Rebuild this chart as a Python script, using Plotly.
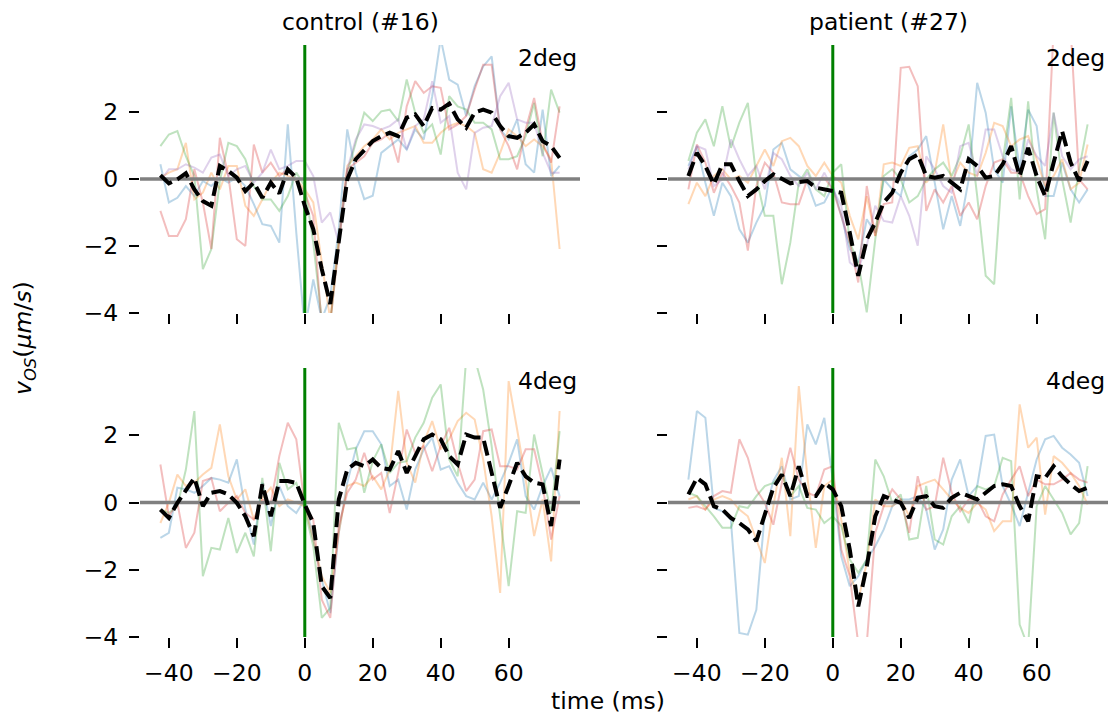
import plotly.graph_objects as go

# ---------------- data ----------------
time_ms = [-42.5, -40.0, -37.5, -35.0, -32.5, -30.0, -27.5, -25.0, -22.5, -20.0, -17.5, -15.0,
           -12.5, -10.0, -7.5, -5.0, -2.5, 0.0, 2.5, 5.0, 7.5, 10.0, 12.5, 15.0,
           17.5, 20.0, 22.5, 25.0, 27.5, 30.0, 32.5, 35.0, 37.5, 40.0, 42.5, 45.0,
           47.5, 50.0, 52.5, 55.0, 57.5, 60.0, 62.5, 65.0, 67.5, 70.0, 72.5, 75.0]

x_ticks = [-40, -20, 0, 20, 40, 60]
x_ticklabels = ["\u221240", "\u221220", "0", "20", "40", "60"]
y_ticks = [-4, -2, 0, 2]
y_ticklabels = ["\u22124", "\u22122", "0", "2"]

col_titles = ["control (#16)", "patient (#27)"]
row_labels = ["2deg", "4deg"]

# control, 2deg
ctl2_mean = [0.11,-0.13,-0.01,0.17,-0.31,-0.66,-0.80,0.39,0.24,0.04,-0.36,-0.11,
             -0.56,-0.11,-0.43,0.29,0.04,-0.80,-1.50,-2.69,-3.73,-1.90,-0.01,0.59,
             0.88,1.13,1.28,1.38,1.28,1.83,1.93,1.58,2.12,2.07,2.25,1.78,
             1.53,1.98,2.07,1.98,1.58,1.28,1.23,1.38,1.63,1.13,0.98,0.63]
ctl2_blue = [0.44,-0.70,-0.56,-0.21,-0.51,-0.06,-0.21,0.04,-0.11,0.04,-0.21,-0.75,
             -1.35,-1.40,-1.90,1.63,-1.60,-4.50,-3.00,-4.20,-3.50,-1.50,1.48,0.20,
             -0.60,-0.50,0.78,0.98,1.18,0.88,1.48,1.18,2.47,4.20,2.97,2.82,
             1.88,2.77,3.36,3.66,1.48,1.18,1.78,0.44,0.19,2.07,0.09,0.39]
ctl2_orange = [0.04,0.19,0.29,1.08,-0.61,-0.41,0.19,-0.31,0.39,0.39,-0.80,-1.10,
               -0.61,-0.11,0.19,0.09,-0.01,-0.31,-0.70,-2.49,-4.20,-1.80,0.39,0.68,
               0.98,1.18,1.48,1.18,1.38,1.48,1.58,1.08,1.08,1.38,1.58,1.68,
               1.58,1.38,0.29,0.19,0.78,1.48,1.28,0.98,1.18,0.98,0.59,-2.09]
ctl2_green = [0.98,1.33,1.43,0.68,0.09,-2.69,-2.09,-0.06,1.08,0.98,0.59,-0.21,
              -0.61,-0.61,-0.95,-0.51,0.19,-0.21,-1.90,-4.20,-4.30,-1.90,0.19,1.08,
              1.98,1.73,2.02,2.07,1.73,2.97,1.98,1.38,1.63,0.73,2.47,2.17,
              2.07,1.68,1.68,1.48,0.59,0.59,0.68,1.28,2.27,0.68,2.67,1.98]
ctl2_red = [-0.95,-1.70,-1.70,-1.20,0.29,-0.70,-2.09,1.23,0.09,-1.80,-2.00,1.03,
            0.19,0.49,0.09,0.29,-0.06,-0.41,-1.10,-4.40,-4.30,-1.90,0.29,0.49,
            0.68,1.08,1.18,1.38,0.49,2.17,2.92,2.57,2.77,2.72,1.48,1.63,
            1.88,2.67,3.41,3.41,1.48,0.98,0.29,1.48,2.42,1.08,0.49,2.17]
ctl2_purple = [-0.06,0.29,0.29,0.44,0.34,0.19,0.64,0.73,0.09,0.29,0.39,-0.11,
               0.19,0.88,0.29,0.39,0.54,0.54,0.09,-1.30,-1.00,-1.90,0.29,1.18,
               1.63,1.58,1.48,1.58,1.78,0.88,1.58,1.78,2.92,1.68,1.88,0.19,
               -0.31,1.38,1.53,1.58,2.47,2.87,1.78,1.68,1.68,0.78,0.19,0.19]

# patient, 2deg
pat2_mean = [0.09,0.78,0.39,-0.16,0.44,0.44,-0.06,-0.51,-0.31,-0.06,0.14,-0.01,
             -0.13,-0.09,-0.06,-0.26,-0.31,-0.36,-0.41,-1.60,-2.89,-1.80,-1.30,-0.70,
             -0.41,0.19,0.59,0.73,0.09,0.04,0.09,-0.11,-0.31,0.59,0.39,0.04,
             0.09,0.44,0.98,0.09,0.93,0.09,-0.51,0.49,1.43,0.49,-0.06,0.54]
pat2_blue = [0.39,0.98,-0.11,-1.10,-0.11,-0.51,-1.50,-1.90,-1.30,-0.80,0.88,1.08,
             0.29,0.09,-0.11,-0.80,-0.70,-0.21,-1.10,-2.09,-2.49,-1.20,-1.60,-0.01,
             -0.31,-0.51,0.68,0.88,1.28,-0.11,-1.50,-0.51,-1.40,-0.01,2.87,1.98,
             0.29,-0.11,2.17,0.29,2.07,1.58,-0.51,-0.51,0.49,-0.31,-0.70,-0.31]
pat2_orange = [-0.75,-0.11,-0.51,0.09,0.29,-0.01,0.09,-0.11,0.39,0.88,0.39,1.13,
               1.23,0.98,0.39,0.09,0.49,0.09,-0.11,-1.10,-1.80,-0.51,-1.70,0.44,
               0.49,0.39,0.93,0.98,-0.11,0.19,1.63,-0.11,0.49,0.19,0.09,0.78,
               1.68,1.58,0.98,1.18,1.28,0.59,-0.21,0.09,0.59,-0.31,-0.11,1.03]
pat2_green = [0.54,1.38,1.78,0.98,2.17,0.93,1.68,2.27,0.04,-1.10,-1.10,-3.14,
              -1.90,-0.11,0.29,-0.31,-0.51,0.19,0.44,-1.90,-2.49,-3.98,-1.80,0.09,
              0.29,-0.01,-0.70,-0.51,-0.01,0.29,0.49,0.09,0.68,1.63,-0.51,-2.89,
              -3.14,0.49,2.42,-0.61,2.32,-0.31,-1.80,1.98,-0.01,-1.30,0.29,1.63]
pat2_red = [-0.31,1.03,0.49,-0.41,0.19,-0.21,-0.70,-2.14,-0.21,0.49,0.19,-0.70,
            -0.75,-0.75,-0.01,-0.01,0.04,-0.31,-1.10,-1.90,-3.09,-0.21,-1.70,-0.75,
            -0.70,3.32,3.35,2.77,-0.95,-0.31,-0.70,-0.21,-1.10,-0.70,-1.20,-0.21,
            0.49,0.59,0.19,0.19,-0.51,-1.05,-0.90,4.50,5.20,4.50,-0.01,-0.31]
pat2_purple = [0.29,0.98,0.88,-0.21,-0.01,1.18,0.59,0.09,0.39,-0.31,0.78,0.59,
               0.09,-0.21,0.19,-0.31,0.19,-0.31,-0.80,-2.49,-2.69,-1.99,-0.80,-1.25,
               -1.30,-0.51,-1.10,-1.99,0.68,0.29,-0.21,-0.41,0.98,1.08,0.09,1.48,
               1.48,0.68,0.29,0.19,1.18,0.68,0.39,1.98,0.68,0.29,0.59,0.68]

# control, 4deg
ctl4_mean = [-0.21,-0.46,-0.01,0.34,0.73,-0.11,0.29,0.34,0.24,-0.01,-0.41,-1.00,
             0.54,-0.41,0.64,0.64,0.58,-0.06,-0.61,-2.49,-2.84,0.09,0.98,1.18,
             1.08,1.28,1.03,0.98,1.53,0.88,1.38,1.88,2.02,1.88,1.38,1.13,
             2.02,1.93,1.93,0.88,-0.16,0.50,1.18,0.78,0.59,0.54,-0.70,1.28]
ctl4_blue = [-1.05,-0.90,0.44,0.39,0.29,0.49,0.73,0.68,0.59,1.28,-0.21,-1.25,
             0.59,-0.70,0.49,-0.11,-0.31,0.09,-1.10,-2.29,-3.29,-0.90,0.59,1.58,
             2.12,2.12,1.73,0.49,0.68,-0.21,0.98,1.58,1.93,0.98,1.08,0.59,
             0.19,0.09,0.59,0.09,0.59,1.18,1.88,0.19,-0.21,0.49,1.03,0.19]
ctl4_orange = [-0.61,-0.01,0.83,0.49,0.59,0.83,1.03,2.32,0.78,0.09,0.39,-0.51,
               0.14,0.44,-0.11,0.09,-0.01,-0.11,-1.10,-2.19,-2.69,-0.90,0.49,0.59,
               0.49,0.78,0.39,0.98,3.32,1.18,0.59,1.78,2.42,1.58,1.88,2.42,
               2.67,2.47,1.28,-0.41,-2.69,3.61,2.17,0.68,-1.00,0.09,-1.75,2.72]
ctl4_green = [-0.21,-0.31,-0.11,0.98,2.72,-2.19,-1.35,-1.40,-0.46,-1.50,-0.90,-1.60,
              0.73,-1.45,1.18,0.39,0.58,-0.21,-1.30,-3.43,-3.14,2.37,1.58,1.63,
              0.29,1.23,1.73,0.88,1.18,1.23,1.93,2.37,3.12,3.51,1.28,0.78,
              4.30,4.30,3.36,1.68,-0.41,-2.49,-0.26,-0.31,2.02,0.88,-0.31,2.12]
ctl4_red = [1.13,-0.41,-0.01,-1.35,-0.90,0.64,0.73,-0.26,-0.01,0.19,-0.31,-0.51,
            0.09,-0.01,1.38,2.37,1.88,-0.11,-0.51,-2.89,-3.43,-0.70,0.29,0.68,
            1.48,0.68,0.88,-0.31,0.88,2.17,1.48,1.68,0.93,1.68,2.22,1.18,
            0.34,0.68,2.12,2.17,1.08,1.08,0.98,1.58,1.58,0.49,-1.10,0.19]

# patient, 4deg
pat4_mean = [0.24,0.73,0.54,-0.11,-0.21,-0.46,-0.61,-0.80,-1.15,-0.31,0.44,0.83,
             0.19,1.08,0.19,0.19,0.58,0.39,-0.11,-1.40,-3.09,-1.90,-0.41,0.19,
             0.09,-0.01,-0.46,0.14,0.19,-0.11,-0.16,0.14,0.29,0.19,0.09,0.29,
             0.49,0.54,0.49,-0.11,-0.56,0.78,0.73,1.08,0.78,0.54,0.34,0.44]
pat4_blue = [0.68,2.72,2.52,-0.16,-0.26,-0.51,-3.88,-3.93,-3.19,-0.31,0.64,1.08,
             0.09,0.19,2.32,1.73,2.52,0.68,-1.60,-2.49,-2.19,-1.70,-1.30,-0.80,
             -0.11,0.09,0.09,0.19,-0.21,-1.40,-0.80,0.68,1.28,0.19,0.49,1.98,
             2.02,0.49,-0.06,-0.70,0.29,1.28,1.88,1.98,1.63,1.43,1.18,0.19]
pat4_orange = [0.09,0.19,-0.21,0.09,0.19,0.09,-0.21,-0.41,-1.10,-1.80,-0.11,1.33,
               -1.00,3.46,0.78,-1.35,0.49,0.68,-0.51,-2.09,-2.89,-1.80,0.09,-0.11,
               -0.11,0.09,-0.41,0.49,0.59,0.68,0.39,0.09,-0.16,-0.31,-0.01,-0.21,
               -0.85,-0.56,-0.56,2.92,1.63,1.93,-0.36,1.38,1.18,0.88,0.49,-0.06]
pat4_green = [0.29,0.19,-0.11,-0.41,-0.75,-0.75,-0.11,-0.16,0.19,0.49,0.58,0.83,
              0.19,0.49,-0.16,-0.21,-0.61,-0.41,-0.70,-1.70,-2.09,-1.70,1.28,0.78,
              -0.01,0.24,-1.10,-1.05,0.49,-1.10,-1.25,-0.41,-0.11,-0.61,0.49,0.39,
              0.49,1.33,1.23,-3.63,-4.30,-0.11,0.49,0.09,-0.31,-0.95,-0.61,1.08]
pat4_red = [-0.16,-0.11,-0.21,0.19,0.34,0.29,1.88,1.33,0.39,-0.01,-0.66,0.58,
            1.63,0.68,0.29,0.19,0.98,1.08,-1.40,-2.19,-4.20,-4.20,-0.90,-0.11,
            0.39,0.09,-0.90,0.78,-0.21,-0.11,1.33,0.29,-0.26,0.09,0.09,-0.41,
            -0.56,0.24,0.68,1.08,0.19,0.68,0.54,0.54,0.68,0.88,0.68,0.59]

# ---------------- styling ----------------
W, H = 1108, 715          # target picture size
H_FIG = 729               # figure height (photo comes out squeezed ~0.98 vertically)
FONT = "DejaVu Sans"
FS = 23.5
X_RANGE = [-48.5, 81]
Y_RANGE = [-4, 4]
trial_colors = {
    "blue": "rgba(31,119,180,0.3)",
    "orange": "rgba(255,127,14,0.3)",
    "green": "rgba(44,160,44,0.3)",
    "red": "rgba(214,39,40,0.3)",
    "purple": "rgba(148,103,189,0.3)",
}

panels = [
    (0, 0, [("blue", ctl2_blue), ("orange", ctl2_orange), ("green", ctl2_green),
            ("red", ctl2_red), ("purple", ctl2_purple)], ctl2_mean),
    (0, 1, [("blue", pat2_blue), ("orange", pat2_orange), ("green", pat2_green),
            ("red", pat2_red), ("purple", pat2_purple)], pat2_mean),
    (1, 0, [("blue", ctl4_blue), ("orange", ctl4_orange), ("green", ctl4_green),
            ("red", ctl4_red)], ctl4_mean),
    (1, 1, [("blue", pat4_blue), ("orange", pat4_orange), ("green", pat4_green),
            ("red", pat4_red)], pat4_mean),
]

# panel pixel boxes (in the 1108x715 picture)
col_px = [(140, 580), (668, 1108)]
row_px = [(45, 313), (368, 637)]


def px(x):
    return x / W


def py(y):
    return 1 - y / H


fig = go.Figure()
layout_axes = {}
for idx, (r, c, trials, mean) in enumerate(panels):
    n = idx + 1
    xa = "x" if n == 1 else f"x{n}"
    ya = "y" if n == 1 else f"y{n}"
    for cname, vals in trials:
        fig.add_trace(go.Scatter(x=time_ms, y=vals, mode="lines",
                                 line=dict(color=trial_colors[cname], width=2),
                                 xaxis=xa, yaxis=ya, showlegend=False, hoverinfo="skip"))
    fig.add_trace(go.Scatter(x=X_RANGE, y=[0, 0], mode="lines",
                             line=dict(color="#808080", width=3.5),
                             xaxis=xa, yaxis=ya, showlegend=False, hoverinfo="skip"))
    fig.add_trace(go.Scatter(x=[0, 0], y=Y_RANGE, mode="lines",
                             line=dict(color="green", width=3),
                             xaxis=xa, yaxis=ya, showlegend=False, hoverinfo="skip"))
    fig.add_trace(go.Scatter(x=time_ms, y=mean, mode="lines",
                             line=dict(color="black", width=4, dash="15px,6px"),
                             xaxis=xa, yaxis=ya, showlegend=False))

    x0, x1 = col_px[c]
    y0, y1 = row_px[r]
    xkey = "xaxis" if n == 1 else f"xaxis{n}"
    ykey = "yaxis" if n == 1 else f"yaxis{n}"
    layout_axes[xkey] = dict(
        domain=[px(x0), px(x1)], range=X_RANGE, anchor=ya,
        tickmode="array", tickvals=x_ticks, ticktext=x_ticklabels,
        ticks="outside", ticklen=10, tickwidth=2, tickcolor="black",
        showticklabels=(r == 1), ticklabelstandoff=5,
        showline=False, showgrid=False, zeroline=False,
        tickfont=dict(family=FONT, size=FS, color="black"),
    )
    layout_axes[ykey] = dict(
        domain=[py(y1), py(y0)], range=Y_RANGE, anchor=xa,
        tickmode="array", tickvals=y_ticks, ticktext=y_ticklabels,
        ticks="outside", ticklen=10, tickwidth=2, tickcolor="black",
        showticklabels=(c == 0), ticklabelstandoff=6,
        showline=False, showgrid=False, zeroline=False,
        tickfont=dict(family=FONT, size=FS, color="black"),
    )

annotations = []
for c, title in enumerate(col_titles):
    x0, x1 = col_px[c]
    annotations.append(dict(text=title, x=px((x0 + x1) / 2), y=py(22),
                            xref="paper", yref="paper", xanchor="center", yanchor="middle",
                            showarrow=False, font=dict(family=FONT, size=FS, color="black")))
for r, lab in enumerate(row_labels):
    for c in range(2):
        x0, x1 = col_px[c]
        y0, y1 = row_px[r]
        annotations.append(dict(text=lab, x=px(x1 - 1), y=py(y0 + 13),
                                xref="paper", yref="paper", xanchor="right", yanchor="middle",
                                showarrow=False, font=dict(family=FONT, size=FS, color="black")))
annotations.append(dict(text="time (ms)", x=px(608), y=py(701), xref="paper", yref="paper",
                        xanchor="center", yanchor="middle", showarrow=False,
                        font=dict(family=FONT, size=FS, color="black")))
annotations.append(dict(text="<i>v</i><sub><i>OS</i></sub>(<i>\u03bcm</i>/<i>s</i>)",
                        x=px(25), y=py(338), xref="paper", yref="paper",
                        xanchor="center", yanchor="middle", textangle=-90, showarrow=False,
                        font=dict(family=FONT, size=FS, color="black")))

fig.update_layout(
    width=W, height=H_FIG, margin=dict(l=0, r=0, t=0, b=0, pad=0),
    paper_bgcolor="white", plot_bgcolor="white",
    showlegend=False, annotations=annotations,
    font=dict(family=FONT, size=FS, color="black"),
    **layout_axes,
)

fig.write_html(
    "out.html",
    config={"displayModeBar": False},
    post_script="document.body.style.margin='0px';document.body.style.padding='0px';"
                "document.body.style.overflow='hidden';",
)
